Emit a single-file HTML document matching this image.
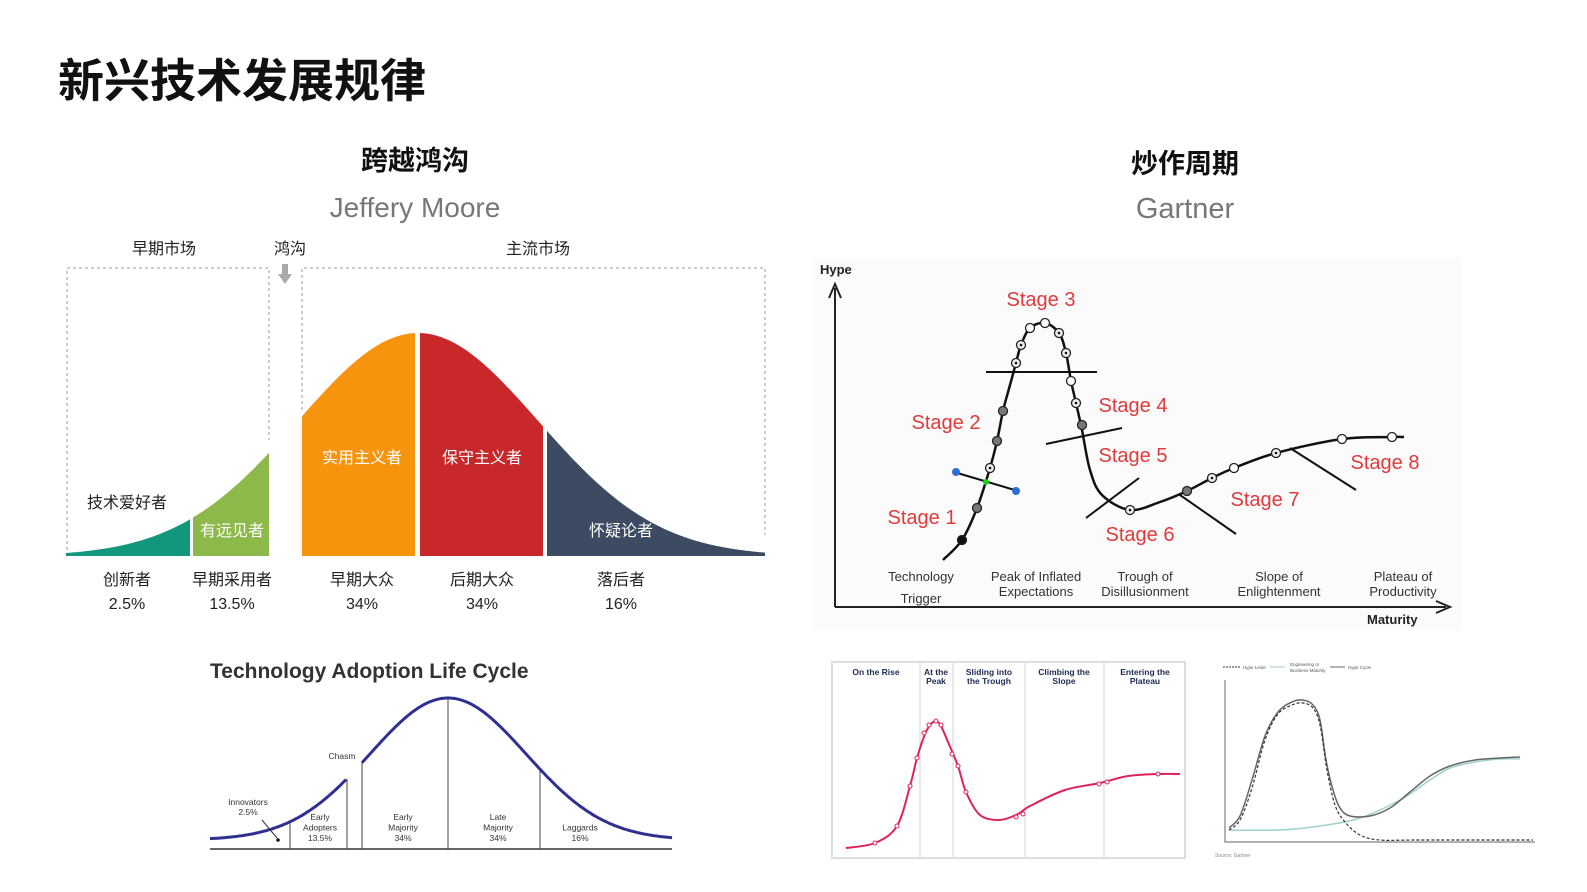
<!DOCTYPE html>
<html><head><meta charset="utf-8">
<style>
body{margin:0;background:#fff;width:1587px;height:892px;overflow:hidden;font-family:"Liberation Sans","Noto Sans CJK SC",sans-serif}
svg{position:absolute;left:0;top:0}
</style></head><body>
<svg id="s" width="1587" height="892" xmlns="http://www.w3.org/2000/svg" font-family="Liberation Sans, Noto Sans CJK SC, sans-serif">
<text x="58" y="97" font-size="46" font-weight="bold" fill="#111">新兴技术发展规律</text>
<text x="415" y="170" font-size="27" font-weight="bold" text-anchor="middle" fill="#111">跨越鸿沟</text>
<text x="415" y="217" font-size="28" text-anchor="middle" fill="#777">Jeffery Moore</text>
<text x="1185" y="173" font-size="27" font-weight="bold" text-anchor="middle" fill="#111">炒作周期</text>
<text x="1185" y="218" font-size="29" text-anchor="middle" fill="#777">Gartner</text>
<g font-size="16" fill="#222" text-anchor="middle">
<text x="164" y="254">早期市场</text>
<text x="290" y="254">鸿沟</text>
<text x="538" y="254">主流市场</text>
</g>
<path d="M67,556 V268 H269 V440" fill="none" stroke="#999" stroke-dasharray="3,3"/>
<path d="M302,410 V268 H765 V535" fill="none" stroke="#999" stroke-dasharray="3,3"/>
<path d="M282,264 h6 v10 h4 l-7,10 l-7,-10 h4 z" fill="#aaa"/>
<g id="bell"></g>
<g id="hype"></g>
<g id="small1"></g>
<g id="small2"></g>
<text x="210" y="678" font-size="21" fill="#333" font-weight="bold">Technology Adoption Life Cycle</text>
</svg>
<script>
const svgNS="http://www.w3.org/2000/svg";
function mk(p,t,a){const e=document.createElementNS(svgNS,t);for(const k in a)e.setAttribute(k,a[k]);p.appendChild(e);return e;}
function smooth(pts){let d="M"+pts[0][0]+","+pts[0][1];for(let i=0;i<pts.length-1;i++){const p0=pts[i-1]||pts[i],p1=pts[i],p2=pts[i+1],p3=pts[i+2]||p2;
d+=` C${p1[0]+(p2[0]-p0[0])/6},${p1[1]+(p2[1]-p0[1])/6} ${p2[0]-(p3[0]-p1[0])/6},${p2[1]-(p3[1]-p1[1])/6} ${p2[0]},${p2[1]}`;}return d;}

// ===== Crossing the chasm bell curve =====
const segNames=["创新者","早期采用者","早期大众","后期大众","落后者"];
const segShares=["2.5%","13.5%","34%","34%","16%"];
const segInner=["技术爱好者","有远见者","实用主义者","保守主义者","怀疑论者"];
const segBounds=[[66,190],[193,269],[302,415],[420,543],[547,765]];
const segColors=["#12977c","#8cb94a","#f7940e","#c9282b","#3d4b62"];
const bellPeak=223, bellMean=418, bellSigma=120, bellBase=556;
const bell=document.getElementById('bell');
const by=x=>bellBase-bellPeak*Math.exp(-((x-bellMean)**2)/(2*bellSigma**2));
const labelX=[127,232,362,482,621];
segBounds.forEach((b,i)=>{
  let d=`M${b[0]},${bellBase}`;
  for(let x=b[0];x<=b[1];x+=2)d+=` L${x},${by(x).toFixed(1)}`;
  d+=` L${b[1]},${by(b[1]).toFixed(1)} L${b[1]},${bellBase}Z`;
  const p=mk(bell,'path',{d,fill:segColors[i]});
  
  
});
segBounds.forEach((b,i)=>{
  const cx=labelX[i];
  const t1=mk(bell,'text',{x:cx,y:585,'font-size':16,'text-anchor':'middle',fill:'#222'});t1.textContent=segNames[i];
  
  
  const t2=mk(bell,'text',{x:cx,y:609,'font-size':16,'text-anchor':'middle',fill:'#222'});t2.textContent=segShares[i];
  
  
  const iy=[508,536,463,463,536][i];
  const t3=mk(bell,'text',{x:cx,y:iy,'font-size':16,'text-anchor':'middle',fill:i==0?'#222':'#fff'});t3.textContent=segInner[i];
  
  
});

// ===== Gartner hype cycle main =====
const hypeCurve=[[943,560],[962,540],[977,508],[990,468],[997,441],[1003,411],[1010,385],[1016,363],[1021,345],[1030,328],[1045,323],[1059,333],[1066,353],[1071,381],[1076,403],[1082,430],[1090,470],[1102,495],[1130,510],[1160,502],[1187,491],[1212,478],[1234,468],[1276,453],[1342,439],[1392,437],[1404,437]];
const hypeDots=[[962,540,'b'],[977,508,'g'],[990,468,'d'],[997,441,'g'],[1003,411,'g'],[1016,363,'d'],[1021,345,'d'],[1030,328,'w'],[1045,323,'w'],[1059,333,'d'],[1066,353,'d'],[1071,381,'w'],[1076,403,'d'],[1082,425,'g'],[1130,510,'d'],[1187,491,'g'],[1212,478,'d'],[1234,468,'w'],[1276,453,'d'],[1342,439,'w'],[1392,437,'w']];
const stageLabels=["Stage 1","Stage 2","Stage 3","Stage 4","Stage 5","Stage 6","Stage 7","Stage 8"];
const stagePos=[[922,524],[946,429],[1041,306],[1133,412],[1133,462],[1140,541],[1265,506],[1385,469]];
const phaseLabels=[["Technology","Trigger"],["Peak of Inflated","Expectations"],["Trough of","Disillusionment"],["Slope of","Enlightenment"],["Plateau of","Productivity"]];
const phaseX=[921,1036,1145,1279,1403];
const hype=document.getElementById('hype');
mk(hype,'rect',{x:812,y:258,width:650,height:372,fill:'#fbfbfb'});
mk(hype,'path',{d:'M835,607 V288 M829,298 L835,284 L841,298 M835,607 H1446 M1436,601 L1450,607 L1436,613',fill:'none',stroke:'#222','stroke-width':2});
let t=mk(hype,'text',{x:820,y:274,'font-size':13,'font-weight':'bold',fill:'#222'});t.textContent='Hype';
t=mk(hype,'text',{x:1367,y:624,'font-size':13,'font-weight':'bold',fill:'#222'});t.textContent='Maturity';
[[986,372,1097,372],[1046,444,1122,428],[1086,518,1139,478],[1180,495,1236,534],[1290,448,1356,490],[954,472,1018,491]].forEach(l=>mk(hype,'line',{x1:l[0],y1:l[1],x2:l[2],y2:l[3],stroke:'#111','stroke-width':2}));
const hp=mk(hype,'path',{d:smooth(hypeCurve),fill:'none',stroke:'#111','stroke-width':2.5});


hypeDots.forEach(p=>{const f={b:'#111',g:'#777',d:'#eee',w:'#fff'}[p[2]];
  mk(hype,'circle',{cx:p[0],cy:p[1],r:4.5,fill:f,stroke:'#222','stroke-width':1.3});
  if(p[2]=='d')mk(hype,'circle',{cx:p[0],cy:p[1],r:1.3,fill:'#111'});});
mk(hype,'circle',{cx:956,cy:472,r:4,fill:'#2a6fd6'});mk(hype,'circle',{cx:1016,cy:491,r:4,fill:'#2a6fd6'});mk(hype,'circle',{cx:986,cy:482,r:3,fill:'#2c2'});
stageLabels.forEach((s,i)=>{const e=mk(hype,'text',{x:stagePos[i][0],y:stagePos[i][1],'font-size':20,'text-anchor':'middle',fill:'#e03a3a'});e.textContent=s;
  
  });
phaseLabels.forEach((pl,i)=>pl.forEach((w,j)=>{const e=mk(hype,'text',{x:phaseX[i],y:581+j*(i==0?22:15),'font-size':13,'text-anchor':'middle',fill:'#333'});e.textContent=w;
  
  }));

// ===== Small chart 1 (red hype) =====
const s1Curve=[[846,848],[875,843],[897,826],[910,786],[917,758],[925,734],[931,724],[936,721],[941,726],[948,742],[958,766],[966,792],[980,815],[1000,820],[1018,814],[1030,806],[1065,790],[1100,783],[1128,776],[1158,774],[1180,774]];
const s1Dots=[[875,843],[897,826],[910,786],[917,758],[924,733],[929,725],[936,721],[941,725],[952,754],[958,766],[966,792],[1016,817],[1023,814],[1099,784],[1107,782],[1158,774]];
const s1Cols=[["On the Rise"],["At the","Peak"],["Sliding into","the Trough"],["Climbing the","Slope"],["Entering the","Plateau"]];
const s1ColX=[876,936,989,1064,1145];
const s1Div=[920,953,1025,1104];
const sm1=document.getElementById('small1');
mk(sm1,'rect',{x:832,y:662,width:353,height:196,fill:'#fff',stroke:'#ddd','stroke-width':2});
s1Div.forEach(x=>mk(sm1,'line',{x1:x,y1:662,x2:x,y2:858,stroke:'#ddd','stroke-width':1.2}));
s1Cols.forEach((c,i)=>c.forEach((w,j)=>{const e=mk(sm1,'text',{x:s1ColX[i],y:675+j*9,'font-size':8.5,'font-weight':'bold','text-anchor':'middle',fill:'#1c2b55'});e.textContent=w;
  
  }));
mk(sm1,'path',{d:smooth(s1Curve),fill:'none',stroke:'#e0225a','stroke-width':2});
s1Dots.forEach(p=>mk(sm1,'circle',{cx:p[0],cy:p[1],r:2,fill:'#fff',stroke:'#e0225a','stroke-width':1}));

// ===== Small chart 2 (three lines) =====
const s2Hype=[[1229,828],[1240,816],[1252,780],[1265,736],[1278,712],[1292,702],[1303,700],[1313,705],[1320,720],[1326,760],[1333,790],[1340,808],[1350,816],[1370,816],[1390,808],[1410,792],[1430,776],[1450,766],[1475,760],[1500,758],[1520,757]];
const s2Level=[[1229,830],[1240,820],[1252,788],[1265,740],[1278,714],[1292,705],[1303,703],[1313,708],[1320,725],[1327,770],[1335,805],[1345,822],[1360,835],[1380,840],[1420,840],[1533,840]];
const s2Mat=[[1229,830],[1280,830],[1320,826],[1360,818],[1400,800],[1430,780],[1450,768],[1475,762],[1500,759],[1520,759]];
const sm2=document.getElementById('small2');
mk(sm2,'path',{d:'M1225,680 V842 H1535',fill:'none',stroke:'#666','stroke-width':1});
mk(sm2,'path',{d:smooth(s2Mat),fill:'none',stroke:'#9fd0cc','stroke-width':1.5});
mk(sm2,'path',{d:smooth(s2Hype),fill:'none',stroke:'#666','stroke-width':1.5});
mk(sm2,'path',{d:smooth(s2Level),fill:'none',stroke:'#333','stroke-width':1.2,'stroke-dasharray':'3,2'});
mk(sm2,'line',{x1:1223,y1:667,x2:1240,y2:667,stroke:'#333','stroke-dasharray':'2,1'});
mk(sm2,'line',{x1:1270,y1:667,x2:1285,y2:667,stroke:'#9fd0cc'});
mk(sm2,'line',{x1:1330,y1:667,x2:1345,y2:667,stroke:'#666'});
[["Hype Level",1243,669],["Engineering or",1290,666],["Business Maturity",1290,672],["Hype Cycle",1348,669]].forEach(a=>{const e=mk(sm2,'text',{x:a[1],y:a[2],'font-size':4.5,fill:'#555'});e.textContent=a[0];});
t=mk(sm2,'text',{x:1215,y:857,'font-size':5,fill:'#888'});t.textContent='Source: Gartner';

// ===== Technology Adoption Life Cycle (blue) =====
const alcBounds=[210,290,347,362,448,540,672];
const alcLabels=[["Early","Adopters","13.5%",320],["Early","Majority","34%",403],["Late","Majority","34%",498],["","Laggards","16%",580]];
const alcMean=448, alcSigma=78, alcPeak=142, alcBase=849;
const ag=document.getElementById('small1');
const ay=x=>alcBase-9-alcPeak*Math.exp(-((x-alcMean)**2)/(2*alcSigma**2));
let d1=`M${alcBounds[0]},${ay(alcBounds[0]).toFixed(1)}`;for(let x=210;x<=347;x+=2)d1+=` L${x},${ay(x).toFixed(1)}`;
let d2=`M362,${(ay(362)).toFixed(1)}`;for(let x=362;x<=672;x+=2)d2+=` L${x},${ay(x).toFixed(1)}`;
mk(ag,'line',{x1:210,y1:849,x2:672,y2:849,stroke:'#333','stroke-width':1.5});
[290,347,362,448,540].forEach(x=>mk(ag,'line',{x1:x,y1:849,x2:x,y2:ay(x),stroke:'#444','stroke-width':1}));
mk(ag,'path',{d:d1,fill:'none',stroke:'#2e3190','stroke-width':3});
mk(ag,'path',{d:d2,fill:'none',stroke:'#2e3190','stroke-width':3});
alcLabels.forEach(l=>[l[0],l[1],l[2]].forEach((w,j)=>{const e=mk(ag,'text',{x:l[3],y:820+j*10.5,'font-size':8.5,'text-anchor':'middle',fill:'#333'});e.textContent=w;
  
  }));
[["Innovators",248,805],["2.5%",248,815],["Chasm",342,759]].forEach(a=>{const e=mk(ag,'text',{x:a[1],y:a[2],'font-size':8.5,'text-anchor':'middle',fill:'#333'});e.textContent=a[0];});
mk(ag,'line',{x1:262,y1:820,x2:277,y2:838,stroke:'#333'});mk(ag,'circle',{cx:278,cy:840,r:1.8,fill:'#111'});
</script>
</body></html>
